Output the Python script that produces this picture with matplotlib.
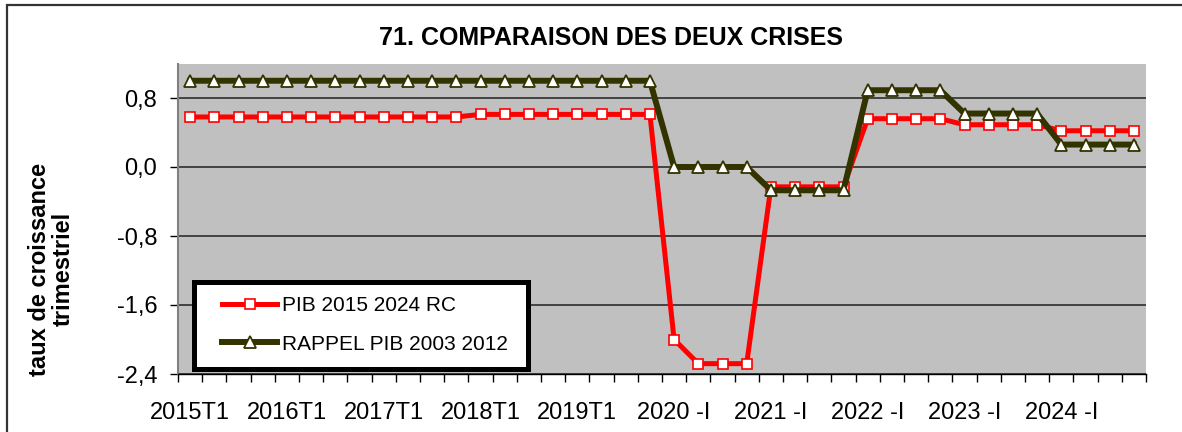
import matplotlib.pyplot as plt
from matplotlib.patches import Rectangle

plt.rcParams['font.family'] = ['Liberation Sans', 'DejaVu Sans']

# trimestres 2015T1 .. 2024T4
labels = ['2015T1', '2016T1', '2017T1', '2018T1', '2019T1',
          '2020 -I', '2021 -I', '2022 -I', '2023 -I', '2024 -I']
pib_2015_2024 = [0.58, 0.58, 0.58, 0.58, 0.58, 0.58, 0.58, 0.58,
                 0.58, 0.58, 0.58, 0.58, 0.61, 0.61, 0.61, 0.61,
                 0.61, 0.61, 0.61, 0.61,
                 -2.0, -2.28, -2.28, -2.28,
                 -0.23, -0.23, -0.23, -0.23,
                 0.56, 0.56, 0.56, 0.56,
                 0.49, 0.49, 0.49, 0.49,
                 0.42, 0.42, 0.42, 0.42]
rappel_2003_2012 = [1.0, 1.0, 1.0, 1.0, 1.0, 1.0, 1.0, 1.0, 1.0, 1.0,
                    1.0, 1.0, 1.0, 1.0, 1.0, 1.0, 1.0, 1.0, 1.0, 1.0,
                    0.0, 0.0, 0.0, 0.0,
                    -0.27, -0.27, -0.27, -0.27,
                    0.89, 0.89, 0.89, 0.89,
                    0.62, 0.62, 0.62, 0.62,
                    0.26, 0.26, 0.26, 0.26]
y_ticks = [-2.4, -1.6, -0.8, 0.0, 0.8]

n = len(pib_2015_2024)
x = list(range(n))

fig = plt.figure(figsize=(11.82, 4.32), dpi=100)
ax = fig.add_axes([178 / 1182, 58 / 432, 968 / 1182, 310.5 / 432])
ax.set_facecolor('#C0C0C0')

ax.plot(x, pib_2015_2024, color='#FF0000', lw=3.6, marker='s', ms=7.5,
        mfc='white', mec='#FF0000', mew=1.2, label='PIB 2015 2024 RC', zorder=3)
ax.plot(x, rappel_2003_2012, color='#333300', lw=4.3, marker='^', ms=9,
        mfc='white', mec='#333300', mew=1.3, label='RAPPEL PIB 2003 2012', zorder=4)

ax.set_xlim(-0.5, n - 0.5)
ax.set_ylim(-2.4, 1.2)

# axe y : pas de 0,8 avec virgule decimale
ax.set_yticks(y_ticks)
ax.set_yticklabels([('%.1f' % v).replace('.', ',') for v in y_ticks])
ax.tick_params(axis='y', direction='out', length=6, width=1, pad=9,
               labelsize=17, color='black')
ax.yaxis.grid(True, color='#222222', lw=1.1)
ax.set_axisbelow(True)

# axe x : traits entre les trimestres, libelles tous les 4 trimestres
ax.set_xticks([i - 0.5 for i in range(n + 1)])
ax.set_xticklabels([])
ax.set_xticks(list(range(0, n, 4)), minor=True)
ax.set_xticklabels(labels, minor=True)
ax.tick_params(axis='x', which='major', direction='out', length=6, width=1,
               color='black')
ax.tick_params(axis='x', which='minor', length=0, pad=20, labelsize=17)

for s in ['top', 'right']:
    ax.spines[s].set_visible(False)
ax.spines['left'].set_color('#808080')
ax.spines['left'].set_linewidth(1.5)
ax.spines['bottom'].set_color('black')
ax.spines['bottom'].set_linewidth(1)

ax.set_ylabel('taux de croissance\ntrimestriel', fontsize=17, fontweight='bold',
              linespacing=1.0)
ax.yaxis.set_label_coords(-0.107, 0.338)

fig.text(0.517, 1 - 38 / 432, '71. COMPARAISON DES DEUX CRISES', ha='center',
         va='center', fontsize=18, fontweight='bold')

# cadre de la legende (trait noir epais)
ax.add_patch(Rectangle((16 / 968, 5 / 310.5), 334 / 968, 87 / 310.5,
                       transform=ax.transAxes, facecolor='white',
                       edgecolor='black', lw=3.6, zorder=5))
leg = ax.legend(loc='upper left', bbox_to_anchor=(44 / 968, 78 / 310.5),
                borderaxespad=0, borderpad=0, fontsize=15, handlelength=2.65,
                handletextpad=0.25, labelspacing=0.95, frameon=False,
                numpoints=1)
leg.set_zorder(6)

# cadre exterieur du graphique
fig.patches.append(Rectangle((7 / 1182, -0.1), 1.2, 1 - 5 / 432 + 0.1,
                             transform=fig.transFigure, fill=False,
                             edgecolor='#333333', lw=1.6, zorder=0))

plt.savefig('out.png', dpi=100)
